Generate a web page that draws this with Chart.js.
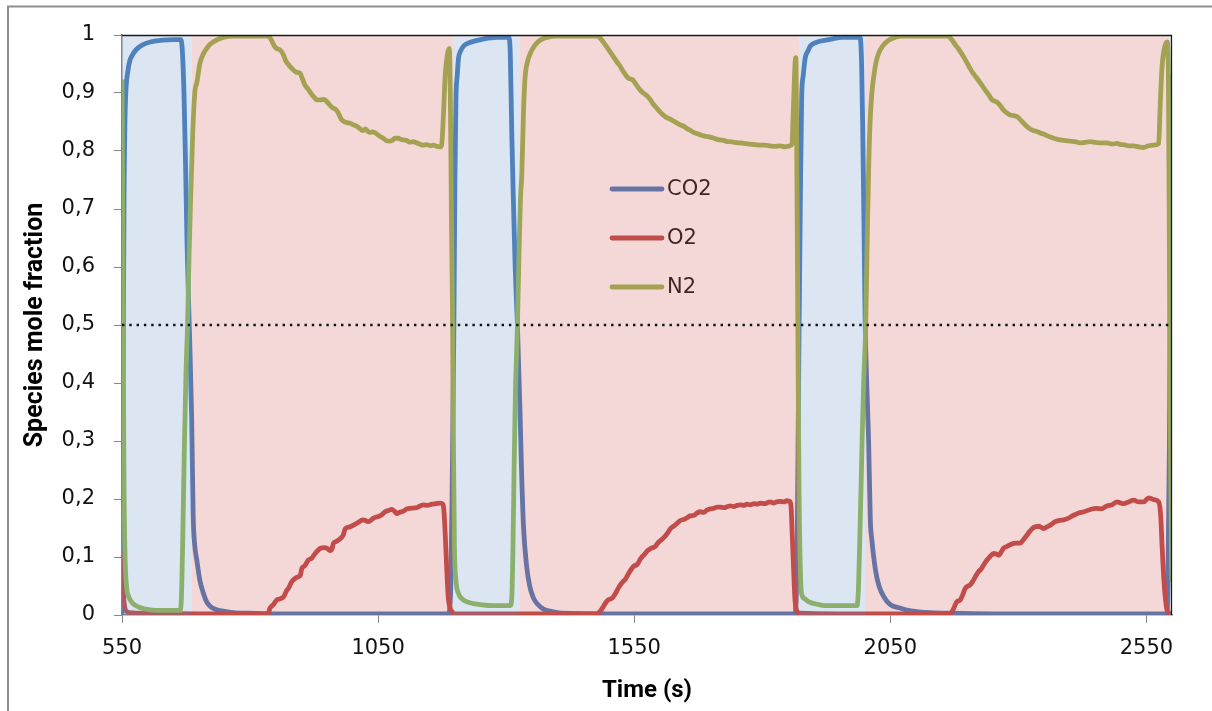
<!DOCTYPE html>
<html><head><meta charset="utf-8">
<script src="https://cdn.jsdelivr.net/npm/chart.js@4.4.1/dist/chart.umd.min.js"></script>
<style>html,body{margin:0;padding:0;background:#fff;}canvas{display:block;}</style>
</head><body>
<canvas id="c" width="1212" height="711"></canvas>
<script>
const xTicks = [550, 1050, 1550, 2050, 2550];
const xRange = [550, 2600];
const yTicks = [0, 0.1, 0.2, 0.3, 0.4, 0.5, 0.6, 0.7, 0.8, 0.9, 1];
const yTickLabels = ['0', '0,1', '0,2', '0,3', '0,4', '0,5', '0,6', '0,7', '0,8', '0,9', '1'];
const feedStart = [550, 1196, 1872, 2594];
const feedEnd = [686, 1326, 2001, 2600];
const refLevel = 0.5;
const seriesNames = ['CO2', 'O2', 'N2'];
const seriesColors = ['#4F81BD', '#C0504D', '#9BBB59'];

const co2 = [[550,0.00],[551,0.15],[552.5,0.45],[554,0.72],[556,0.86],[558,0.91],[561,0.935],[565,0.955],[570,0.965],[578,0.975],[590,0.983],[605,0.988],[630,0.991],[650,0.992],[665,0.992],[668,0.97],[671,0.90],[674,0.78],[677,0.64],[681,0.51],[686,0.34],[689,0.17],[692,0.12],[696,0.095],[702,0.06],[708,0.04],[715,0.023],[722,0.015],[732,0.01],[745,0.007],[767,0.004],[800,0.003],[850,0.002],[1000,0.002],[1187,0.002],
[1192,0.05],[1195,0.25],[1198,0.5],[1200,0.75],[1202,0.89],[1204.5,0.93],[1207,0.96],[1211,0.972],[1217,0.981],[1226,0.986],[1236,0.989],[1255,0.993],[1282,0.996],[1305,0.996],[1308,0.97],[1311,0.83],[1314,0.72],[1317.6,0.6],[1322,0.5],[1327,0.354],[1330,0.25],[1334,0.151],[1340,0.084],[1346,0.05],[1353,0.03],[1362,0.018],[1373,0.01],[1390,0.006],[1410,0.003],[1500,0.002],[1700,0.002],[1864,0.002],
[1868,0.1],[1870,0.3],[1872,0.5],[1874.5,0.72],[1877,0.893],[1880,0.93],[1884,0.961],[1889,0.972],[1894,0.981],[1905,0.987],[1916.5,0.99],[1935,0.993],[1955,0.996],[1991,0.996],[1994,0.95],[1996,0.85],[1998.5,0.68],[2001,0.5],[2004,0.4],[2007.7,0.3],[2011,0.164],[2014,0.13],[2021,0.078],[2028,0.05],[2037,0.032],[2050,0.018],[2069.5,0.012],[2085,0.008],[2102,0.006],[2130,0.004],[2167,0.003],[2250,0.002],[2400,0.002],[2590,0.002],[2592,0.05],[2595,0.3],[2597,0.6],[2600,0.93]];

const o2 = [[550,0.11],[551.5,0.07],[553,0.035],[555,0.015],[558,0.007],[565,0.004],[600,0.003],[700,0.002],[832,0.002],[836,0.004],[839,0.012],[845.6,0.018],[852,0.026],[855,0.027],[862,0.029],[866,0.032],[872,0.043],[875,0.046],[881,0.057],[885,0.061],[894,0.066],[898,0.068],[901,0.080],[907,0.085],[914,0.095],[920.5,0.098],[927,0.106],[933.4,0.112],[937,0.115],[946.5,0.116],[952,0.114],[956,0.111],[960,0.114],[963,0.124],[969,0.127],[972.5,0.129],[982,0.138],[986,0.149],[995,0.152],[1008,0.158],[1021,0.164],[1031,0.161],[1041,0.167],[1050.6,0.170],[1056,0.172],[1063.7,0.178],[1070,0.180],[1076.7,0.182],[1082,0.179],[1086.5,0.175],[1092,0.177],[1099.4,0.179],[1106,0.183],[1112.5,0.184],[1125.6,0.185],[1132,0.188],[1138.5,0.190],[1146,0.189],[1155,0.191],[1163,0.192],[1171,0.193],[1175,0.192],[1178,0.185],[1181,0.14],[1184,0.08],[1187,0.03],[1190.6,0.012],[1195,0.005],[1200,0.002],[1300,0.002],[1400,0.002],[1477.7,0.002],
[1483,0.006],[1489.5,0.014],[1495,0.022],[1499,0.026],[1505,0.028],[1509,0.031],[1514,0.038],[1518.8,0.046],[1523,0.052],[1528.5,0.058],[1533,0.062],[1538,0.07],[1546,0.081],[1550,0.085],[1554,0.086],[1558,0.09],[1561.7,0.096],[1566,0.101],[1571.5,0.106],[1576,0.111],[1581,0.114],[1586,0.116],[1591,0.118],[1596,0.124],[1600.8,0.128],[1605,0.131],[1610.5,0.136],[1615,0.141],[1620,0.148],[1625,0.152],[1630,0.155],[1635,0.159],[1640,0.163],[1648,0.165],[1654,0.168],[1659,0.171],[1667,0.172],[1673,0.176],[1679,0.178],[1686,0.177],[1692,0.181],[1698,0.183],[1706,0.184],[1712,0.186],[1718,0.186],[1726,0.185],[1732,0.187],[1737.5,0.188],[1745,0.187],[1751,0.189],[1757,0.19],[1765,0.189],[1770,0.191],[1776.6,0.19],[1784,0.192],[1790,0.191],[1796,0.193],[1805,0.192],[1811,0.194],[1815.6,0.195],[1822,0.193],[1828,0.195],[1835,0.196],[1842,0.195],[1848,0.197],[1853,0.196],[1856,0.19],[1858.5,0.14],[1861,0.084],[1864,0.025],[1868,0.006],[1875,0.003],[1950,0.002],[2100,0.002],[2167,0.002],
[2173,0.01],[2180,0.023],[2186.7,0.026],[2191,0.034],[2196.5,0.046],[2206,0.052],[2211,0.058],[2216,0.066],[2222.5,0.075],[2227,0.079],[2232,0.086],[2238,0.094],[2245,0.101],[2252,0.106],[2257,0.105],[2261.5,0.103],[2266,0.108],[2271,0.115],[2277,0.118],[2284,0.121],[2294,0.124],[2304,0.124],[2310,0.13],[2317,0.138],[2323,0.145],[2330,0.151],[2340,0.153],[2345,0.151],[2349.5,0.149],[2356,0.152],[2362.5,0.155],[2372,0.161],[2380,0.163],[2388.5,0.164],[2398,0.167],[2408,0.172],[2418,0.176],[2428,0.178],[2440.6,0.182],[2452,0.184],[2462,0.183],[2473,0.188],[2483,0.19],[2492.7,0.195],[2500,0.193],[2505.6,0.192],[2515,0.195],[2525,0.198],[2535,0.195],[2544.6,0.195],[2554.5,0.202],[2564,0.199],[2574,0.195],[2578,0.17],[2580.7,0.118],[2585,0.05],[2590,0.01],[2595,0.003],[2600,0.002]];

const n2 = [[550,0.92],[551,0.75],[552.5,0.45],[554,0.22],[556,0.10],[559,0.048],[563,0.032],[571,0.02],[585,0.013],[605,0.009],[630,0.008],[663,0.008],[666,0.03],[669,0.15],[672,0.3],[675,0.42],[678,0.5],[681,0.62],[684,0.72],[688,0.83],[692.6,0.905],[696,0.917],[702,0.951],[708,0.966],[715.4,0.977],[722,0.984],[731.6,0.990],[748,0.996],[767,0.998],[835,0.998],
[840,0.994],[845,0.985],[850,0.978],[858.6,0.974],[864,0.968],[870,0.955],[876,0.948],[881,0.943],[890,0.936],[897.7,0.934],[902,0.925],[907,0.914],[914,0.906],[920,0.898],[926,0.892],[930,0.888],[937,0.888],[944,0.889],[950,0.885],[956,0.879],[962,0.874],[967,0.872],[972,0.866],[978,0.855],[983,0.851],[989,0.849],[995,0.848],[1002,0.845],[1008,0.843],[1014,0.839],[1020,0.835],[1025,0.838],[1030,0.834],[1034,0.832],[1040,0.833],[1048,0.829],[1054,0.825],[1060,0.822],[1066,0.818],[1072,0.817],[1077,0.818],[1083,0.822],[1089,0.822],[1095,0.82],[1101,0.819],[1106,0.818],[1112,0.815],[1118,0.816],[1125.6,0.814],[1131,0.812],[1138,0.81],[1145,0.811],[1152,0.809],[1158,0.810],[1165,0.808],[1171,0.807],[1174,0.81],[1177.5,0.86],[1181,0.93],[1185,0.965],[1189,0.977],[1191,0.9],[1193,0.7],[1195.5,0.5],[1197,0.3],[1199,0.12],[1202,0.06],[1207,0.037],[1215,0.027],[1223,0.023],[1249,0.018],[1280,0.016],[1308,0.016],
[1311,0.03],[1313,0.1],[1315.5,0.25],[1318,0.38],[1322,0.5],[1325,0.62],[1328,0.72],[1330.5,0.758],[1334,0.87],[1337,0.927],[1342,0.955],[1347,0.968],[1356,0.982],[1366,0.991],[1380,0.996],[1399,0.998],[1477,0.998],
[1483,0.995],[1489.5,0.988],[1496,0.98],[1503,0.971],[1510,0.962],[1516.8,0.953],[1522,0.947],[1526.6,0.94],[1532,0.933],[1538,0.926],[1543,0.924],[1548,0.922],[1555,0.913],[1561.7,0.905],[1568,0.9],[1575,0.895],[1581,0.889],[1587,0.881],[1594,0.874],[1600.8,0.867],[1607,0.862],[1614.6,0.857],[1620,0.855],[1624,0.853],[1632,0.849],[1640,0.845],[1648,0.842],[1654,0.838],[1659,0.836],[1666,0.832],[1672,0.83],[1679,0.828],[1686,0.826],[1692,0.825],[1698,0.824],[1706,0.822],[1712,0.82],[1718,0.819],[1726,0.818],[1732,0.816],[1737.5,0.816],[1746,0.815],[1757,0.814],[1765,0.813],[1776.6,0.812],[1786,0.811],[1796,0.81],[1805,0.81],[1815.6,0.809],[1825,0.808],[1835,0.809],[1845,0.807],[1854,0.809],[1858,0.812],[1861,0.88],[1864,0.95],[1865.6,0.961],[1867,0.85],[1869.5,0.5],[1872,0.2],[1875,0.06],[1877,0.036],[1883,0.028],[1890,0.023],[1905,0.019],[1923,0.016],[1985,0.016],
[1988,0.05],[1991,0.15],[1995,0.3],[1998,0.4],[2002,0.5],[2005,0.65],[2008,0.78],[2011,0.859],[2014,0.9],[2017.5,0.927],[2022,0.952],[2027,0.968],[2036,0.982],[2046.7,0.991],[2060,0.996],[2073,0.998],[2163,0.998],
[2170,0.992],[2177,0.983],[2184,0.975],[2190.6,0.966],[2196,0.958],[2202.3,0.948],[2206,0.942],[2210,0.936],[2216,0.929],[2222,0.922],[2229,0.913],[2235.5,0.905],[2242,0.897],[2249,0.888],[2254,0.886],[2259,0.884],[2265,0.878],[2270.7,0.871],[2277,0.866],[2284,0.862],[2291,0.861],[2298,0.859],[2306,0.852],[2313.6,0.845],[2320,0.84],[2327,0.836],[2335,0.834],[2343,0.831],[2352,0.828],[2362.5,0.824],[2372,0.821],[2382,0.819],[2392,0.818],[2401.6,0.817],[2411,0.816],[2421,0.814],[2430,0.815],[2440.6,0.816],[2450,0.815],[2460,0.814],[2473,0.814],[2483,0.812],[2492.7,0.813],[2500,0.811],[2505.6,0.811],[2515,0.809],[2525,0.809],[2535,0.807],[2544.6,0.806],[2554.5,0.809],[2564,0.81],[2574,0.813],[2577,0.88],[2580.7,0.947],[2586,0.98],[2590.6,0.988],[2593,0.93],[2595,0.6],[2597,0.3],[2599,0.1],[2600,0.06]];

const toPts = a => a.map(p => ({x: p[0], y: p[1]}));
const feedPts = [], purgePts = [];
feedStart.forEach((s, i) => {
  feedPts.push({x: s, y: 1}); feedPts.push({x: feedEnd[i], y: 0});
  purgePts.push({x: s, y: 0}); purgePts.push({x: feedEnd[i], y: 1});
});

const lineBase = {pointRadius: 0, borderWidth: 4.8, fill: false, cubicInterpolationMode: 'monotone', borderJoinStyle: 'round', borderCapStyle: 'round'};

const frame = {
  id: 'frame',
  beforeDraw(chart) {
    const ctx = chart.ctx;
    ctx.save();
    ctx.strokeStyle = '#8e8e8e'; ctx.lineWidth = 2;
    ctx.beginPath(); ctx.moveTo(8, 720); ctx.lineTo(8, 6.5); ctx.lineTo(1220, 6.5); ctx.stroke();
    ctx.restore();
  },
  beforeDatasetsDraw(chart) {
    const ctx = chart.ctx;
    ctx.save();
    ctx.font = '21px "DejaVu Sans"'; ctx.textBaseline = 'middle';
    const ys = [189, 238, 287];
    seriesNames.forEach((n, i) => {
      ctx.strokeStyle = seriesColors[i]; ctx.lineWidth = 4.8; ctx.lineCap = 'round';
      ctx.beginPath(); ctx.moveTo(612, ys[i]); ctx.lineTo(662, ys[i]); ctx.stroke();
      ctx.fillStyle = '#1e1e1e'; ctx.fillText(n, 667, ys[i] + 1);
    });
    ctx.restore();
  },
  afterDatasetsDraw(chart) {
    const a = chart.chartArea, ctx = chart.ctx;
    ctx.save();
    ctx.strokeStyle = '#1a1a1a'; ctx.lineWidth = 1.3;
    ctx.beginPath(); ctx.moveTo(a.left, a.top + 0.5); ctx.lineTo(a.right - 0.5, a.top + 0.5); ctx.lineTo(a.right - 0.5, a.bottom); ctx.stroke();
    ctx.restore();
  }
};

new Chart(document.getElementById('c'), {
  type: 'line',
  data: {
    datasets: [
      Object.assign({label: seriesNames[0], data: toPts(co2), borderColor: seriesColors[0], order: 3}, lineBase),
      Object.assign({label: seriesNames[1], data: toPts(o2), borderColor: seriesColors[1], order: 2}, lineBase),
      Object.assign({label: seriesNames[2], data: toPts(n2), borderColor: seriesColors[2], order: 1}, lineBase),
      {label: 'feed', data: feedPts, stepped: true, borderWidth: 0, pointRadius: 0, fill: 'origin', backgroundColor: 'rgba(79,129,189,0.2)', borderColor: 'rgba(0,0,0,0)', order: 0},
      {label: 'purge', data: purgePts, stepped: true, borderWidth: 0, pointRadius: 0, fill: 'origin', backgroundColor: 'rgba(200,60,60,0.2)', borderColor: 'rgba(0,0,0,0)', order: 0},
      {label: 'ref', data: [{x: xRange[0], y: refLevel}, {x: xRange[1], y: refLevel}], borderColor: '#111', borderWidth: 2.4, borderDash: [2.4, 4.9], pointRadius: 0, fill: false, order: -1}
    ]
  },
  options: {
    responsive: false, animation: false, devicePixelRatio: 1,
    layout: {padding: {left: 0, top: 35, right: 40, bottom: 0}},
    plugins: {legend: {display: false}, tooltip: {enabled: false}},
    scales: {
      x: {
        type: 'linear', min: xRange[0], max: xRange[1],
        afterBuildTicks: s => { s.ticks = xTicks.map(v => ({value: v})); },
        afterFit: s => { s.height = 96; },
        grid: {display: true, drawOnChartArea: false, drawTicks: true, tickLength: 8, color: '#868686'},
        border: {display: true, color: '#868686', width: 1.5},
        ticks: {color: '#111', font: {family: 'DejaVu Sans', size: 21}, padding: 13, maxRotation: 0, callback: v => String(v)},
        title: {display: true, text: 'Time (s)', color: '#000', font: {family: 'Roboto', size: 24, weight: 'bold'}, padding: {top: 0, bottom: 6}}
      },
      y: {
        min: 0, max: 1,
        afterBuildTicks: s => { s.ticks = yTicks.map(v => ({value: v})); },
        afterFit: s => { s.width = 122; },
        grid: {display: true, drawOnChartArea: false, drawTicks: true, tickLength: 8, color: '#868686'},
        border: {display: true, color: '#868686', width: 1.5},
        ticks: {color: '#111', font: {family: 'DejaVu Sans', size: 21}, padding: 19, callback: (v, i) => yTickLabels[i]},
        title: {display: true, text: 'Species mole fraction', color: '#000', font: {family: 'Roboto', size: 25, weight: 'bold'}, padding: {top: 21, bottom: 0}}
      }
    }
  },
  plugins: [frame]
});
</script>
</body></html>
